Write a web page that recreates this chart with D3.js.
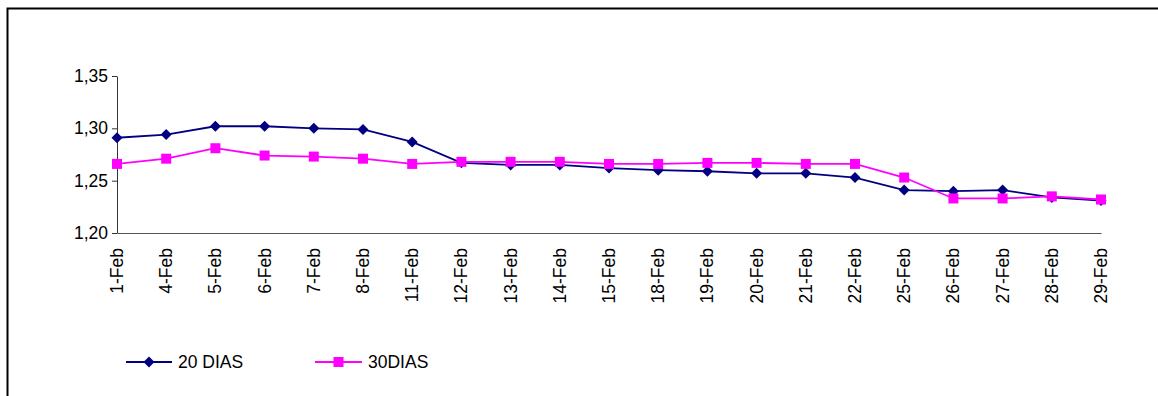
<!DOCTYPE html>
<html>
<head>
<meta charset="utf-8">
<script src="https://cdn.jsdelivr.net/npm/d3@7"></script>
<style>
  html, body { margin: 0; padding: 0; background: #fff; }
  svg { display: block; }
  text { font-family: "Liberation Sans", Arial, sans-serif; fill: #000; }
</style>
</head>
<body>
<svg id="chart" width="1158" height="396"></svg>
<script>
// Trading days of February
const days = ["1-Feb","4-Feb","5-Feb","6-Feb","7-Feb","8-Feb","11-Feb","12-Feb","13-Feb","14-Feb",
  "15-Feb","18-Feb","19-Feb","20-Feb","21-Feb","22-Feb","25-Feb","26-Feb","27-Feb","28-Feb","29-Feb"];

// 20-day series
const dias20 = [1.291,1.294,1.302,1.302,1.300,1.299,1.287,1.267,1.265,1.265,
  1.262,1.260,1.259,1.257,1.257,1.253,1.241,1.240,1.241,1.234,1.231];

// 30-day series
const dias30 = [1.266,1.271,1.281,1.274,1.273,1.271,1.266,1.268,1.268,1.268,
  1.266,1.266,1.267,1.267,1.266,1.266,1.253,1.233,1.233,1.235,1.232];

const yTicks = [1.20, 1.25, 1.30, 1.35];

const seriesNames = ["20 DIAS", "30DIAS"];

const svg = d3.select("#chart");
const fontSize = 17.5;

// Outer frame (extends past the right and bottom edges)
svg.append("rect")
  .attr("x", 7.5).attr("y", 8.5)
  .attr("width", 1200).attr("height", 450)
  .attr("fill", "none").attr("stroke", "#000").attr("stroke-width", 2);

const x = d3.scalePoint().domain(days).range([117, 1101]).padding(0);
const y = d3.scaleLinear().domain([1.20, 1.35]).range([233, 76]);

const locale = d3.formatLocale({ decimal: ",", thousands: ".", grouping: [3], currency: ["", ""] });
const fmt = locale.format(".2f");

// Y axis
const yAxis = svg.append("g")
  .attr("transform", "translate(117,0)")
  .call(d3.axisLeft(y).tickValues(yTicks).tickFormat(fmt).tickSize(5).tickSizeOuter(0).tickPadding(4));
yAxis.select(".domain").attr("stroke", "#333").attr("stroke-width", 1);
yAxis.selectAll(".tick line").attr("stroke", "#333");
yAxis.selectAll(".tick text")
  .style("font-family", '"Liberation Sans", Arial, sans-serif')
  .style("font-size", fontSize + "px").attr("fill", "#000");

// X axis with vertical labels
const xAxis = svg.append("g")
  .attr("transform", "translate(0,233)")
  .call(d3.axisBottom(x).tickSize(0).tickSizeOuter(0));
xAxis.select(".domain").attr("stroke", "#555").attr("stroke-width", 1.2);
xAxis.selectAll(".tick text")
  .style("font-family", '"Liberation Sans", Arial, sans-serif')
  .style("font-size", fontSize + "px").attr("fill", "#000")
  .attr("text-anchor", "end")
  .attr("dy", null)
  .attr("y", 0)
  .attr("transform", "translate(5.5,15) rotate(-90)");

const diamond = "M0,-5.5L5.5,0L0,5.5L-5.5,0Z";
const square = "M-5,-5H5V5H-5Z";

const series = [
  { name: seriesNames[0], values: dias20, color: "#000080", shape: diamond },
  { name: seriesNames[1], values: dias30, color: "#FF00FF", shape: square }
];

const line = d3.line().x((d, i) => x(days[i])).y(d => y(d));

series.forEach(s => {
  const g = svg.append("g");
  g.append("path")
    .datum(s.values)
    .attr("d", line)
    .attr("fill", "none")
    .attr("stroke", s.color)
    .attr("stroke-width", 1.8);
  g.selectAll("path.mark")
    .data(s.values)
    .join("path")
    .attr("class", "mark")
    .attr("d", s.shape)
    .attr("transform", (d, i) => `translate(${x(days[i])},${y(d)})`)
    .attr("fill", s.color);
});

// Legend
const legendItems = [
  { s: series[0], x0: 126, x1: 172, tx: 178 },
  { s: series[1], x0: 315, x1: 362, tx: 368 }
];
const ly = 362;
legendItems.forEach(item => {
  const g = svg.append("g");
  g.append("line")
    .attr("x1", item.x0).attr("x2", item.x1)
    .attr("y1", ly).attr("y2", ly)
    .attr("stroke", item.s.color).attr("stroke-width", 1.8);
  g.append("path")
    .attr("d", item.s.shape)
    .attr("transform", `translate(${(item.x0 + item.x1) / 2},${ly})`)
    .attr("fill", item.s.color);
  g.append("text")
    .attr("x", item.tx).attr("y", ly)
    .attr("dy", "0.36em")
    .style("font-size", fontSize + "px")
    .text(item.s.name);
});
</script>
</body>
</html>
